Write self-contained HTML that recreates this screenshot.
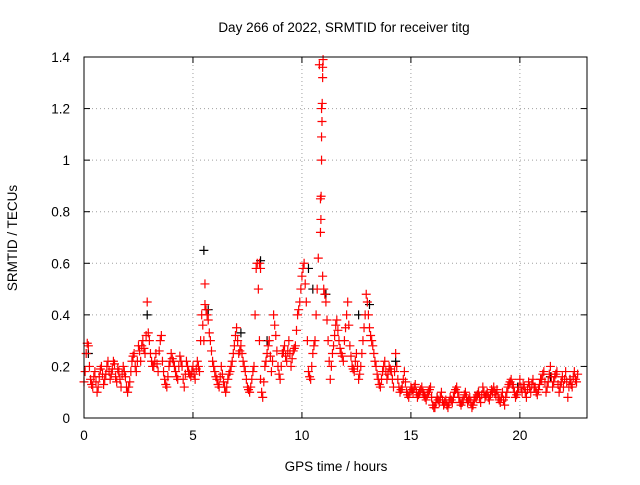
<!DOCTYPE html>
<html><head><meta charset="utf-8"><style>
body{margin:0;background:#fff}
svg text{font-family:"Liberation Sans",sans-serif;font-size:13.5px;fill:#000}
</style></head><body>
<svg id="chart" width="640" height="480" xmlns="http://www.w3.org/2000/svg">
<text x="344" y="32" text-anchor="middle">Day 266 of 2022, SRMTID for receiver titg</text>
<text transform="translate(17,238) rotate(-90)" text-anchor="middle">SRMTID / TECUs</text>
<text x="336" y="471" text-anchor="middle">GPS time / hours</text>
<g id="grid"></g>
<g id="ticks"></g>
<g id="black"></g>
<g id="red"></g>
<rect x="84" y="57" width="503" height="361" fill="none" stroke="#000" stroke-width="1"/>
</svg>
<script>
const xTicks=[0,5,10,15,20];
const yTicks=[0,0.2,0.4,0.6,0.8,1,1.2,1.4];
const yTickLabels=["0","0.2","0.4","0.6","0.8","1","1.2","1.4"];
const seriesA=[0.14,0.25,0.28,0.15,0.12,0.18,0.10,0.16,0.20,0.13,
0.17,0.22,0.15,0.19,0.21,0.14,0.18,0.12,0.20,0.16,
0.10,0.14,0.22,0.25,0.18,0.28,0.22,0.30,0.25,0.45,
0.30,0.22,0.20,0.25,0.18,0.30,0.22,0.15,0.12,0.20,
0.25,0.22,0.18,0.15,0.24,0.20,0.12,0.22,0.18,0.16,
0.20,0.15,0.22,0.18,0.40,0.30,0.42,0.38,0.30,0.22,
0.18,0.15,0.12,0.20,0.14,0.10,0.15,0.18,0.22,0.28,
0.35,0.25,0.28,0.22,0.18,0.12,0.10,0.15,0.20,0.58,
0.50,0.15,0.08,0.20,0.25,0.30,0.18,0.40,0.32,0.20,
0.15,0.25,0.28,0.22,0.30,0.20,0.26,0.28,0.40,0.45,
0.55,0.60,0.45,0.18,0.15,0.25,0.30,0.50,1.37,1.20,
0.50,0.45,0.30,0.15,0.25,0.32,0.38,0.30,0.25,0.22,
0.35,0.45,0.28,0.20,0.18,0.25,0.15,0.20,0.30,0.40,
0.45,0.35,0.30,0.25,0.20,0.15,0.12,0.18,0.22,0.15,
0.20,0.18,0.12,0.25,0.15,0.10,0.12,0.18,0.10,0.08,
0.12,0.10,0.13,0.08,0.10,0.12,0.09,0.07,0.10,0.12,
0.05,0.04,0.08,0.06,0.10,0.05,0.07,0.04,0.08,0.06,
0.10,0.12,0.08,0.05,0.07,0.10,0.06,0.08,0.04,0.07,
0.08,0.10,0.06,0.12,0.08,0.10,0.07,0.11,0.12,0.09,
0.08,0.06,0.10,0.05,0.10,0.13,0.15,0.12,0.08,0.10,
0.15,0.10,0.12,0.08,0.14,0.10,0.15,0.12,0.09,0.13,
0.15,0.18,0.10,0.14,0.20,0.12,0.16,0.18,0.10,0.14,
0.12,0.18,0.08,0.15,0.12,0.18,0.14];
const seriesB=[0.18,0.29,0.20,0.13,0.16,0.14,0.12,0.19,0.17,0.15,
0.20,0.18,0.17,0.22,0.16,0.19,0.15,0.17,0.18,0.12,
0.12,0.18,0.24,0.20,0.22,0.26,0.28,0.27,0.32,0.33,
0.25,0.20,0.22,0.21,0.26,0.32,0.18,0.13,0.16,0.22,
0.23,0.20,0.16,0.20,0.22,0.15,0.17,0.20,0.17,0.18,
0.17,0.19,0.20,0.30,0.36,0.44,0.40,0.33,0.26,0.20,
0.16,0.13,0.16,0.17,0.12,0.12,0.17,0.20,0.25,0.32,
0.30,0.26,0.25,0.20,0.15,0.11,0.12,0.18,0.40,0.60,
0.30,0.10,0.14,0.22,0.28,0.24,0.22,0.36,0.26,0.17,
0.20,0.26,0.24,0.26,0.25,0.23,0.27,0.34,0.42,0.50,
0.58,0.52,0.30,0.16,0.20,0.28,0.40,0.62,0.85,0.55,
0.48,0.38,0.22,0.20,0.28,0.36,0.34,0.27,0.24,0.30,
0.40,0.36,0.24,0.19,0.22,0.20,0.17,0.25,0.35,0.48,
0.40,0.32,0.28,0.22,0.17,0.13,0.15,0.20,0.18,0.17,
0.19,0.15,0.18,0.20,0.12,0.11,0.15,0.14,0.09,0.10,
0.11,0.12,0.10,0.09,0.11,0.10,0.08,0.09,0.11,0.08,
0.04,0.06,0.07,0.08,0.07,0.06,0.05,0.06,0.07,0.08,
0.11,0.10,0.06,0.06,0.09,0.08,0.07,0.06,0.05,0.08,
0.09,0.08,0.09,0.10,0.09,0.08,0.09,0.10,0.10,0.11,
0.07,0.08,0.07,0.08,0.12,0.14,0.13,0.10,0.09,0.12,
0.12,0.13,0.10,0.11,0.12,0.13,0.12,0.10,0.11,0.15,
0.17,0.14,0.12,0.17,0.16,0.14,0.17,0.13,0.12,0.16,
0.15,0.14,0.12,0.13,0.16,0.15,0.17];
const spikeTimes=[10.85,10.87,10.88,10.9,10.9,10.92,10.93,10.95,10.95,10.97,5.55,8.05,8.1];
const spikeValues=[0.72,0.77,0.86,1.0,1.09,1.15,1.22,1.32,1.36,1.39,0.52,0.60,0.58];
const blackTimes=[0.2,2.9,5.5,5.7,7.2,8.1,8.4,10.3,10.5,11.1,12.6,13.1,14.3,16.2,18.1,19.9,21.4,22.3];
const blackValues=[0.25,0.40,0.65,0.42,0.33,0.61,0.30,0.58,0.50,0.48,0.40,0.44,0.22,0.08,0.10,0.12,0.16,0.15];

const X0=84,X1=587,Y0=418,Y1=57,XMAX=23.08,YMAX=1.4;
const sx=v=>X0+(X1-X0)*v/XMAX;
const sy=v=>Y0-(Y0-Y1)*v/YMAX;
const NS="http://www.w3.org/2000/svg";
function mk(tag,attrs,parent){const e=document.createElementNS(NS,tag);for(const k in attrs)e.setAttribute(k,attrs[k]);parent.appendChild(e);return e;}
const grid=document.getElementById('grid'),ticks=document.getElementById('ticks');
xTicks.forEach(t=>{
 const x=sx(t);
 if(t>0){const l=mk('line',{x1:x,x2:x,y1:Y1,y2:Y0,stroke:'#a0a0a0','stroke-dasharray':'1,3'},grid);
 
 }
 mk('line',{x1:x,x2:x,y1:Y0,y2:Y0-6,stroke:'#000'},ticks);
 mk('line',{x1:x,x2:x,y1:Y1,y2:Y1+6,stroke:'#000'},ticks);
 const tx=mk('text',{x:x,y:Y0+22,'text-anchor':'middle'},ticks);tx.textContent=String(t);
 
 
});
yTicks.forEach((t,i)=>{
 const y=sy(t);
 if(t>0&&t<YMAX){const l=mk('line',{x1:X0,x2:X1,y1:y,y2:y,stroke:'#a0a0a0','stroke-dasharray':'1,3'},grid);
 
 }
 mk('line',{x1:X0,x2:X0+6,y1:y,y2:y,stroke:'#000'},ticks);
 mk('line',{x1:X1,x2:X1-6,y1:y,y2:y,stroke:'#000'},ticks);
 const tx=mk('text',{x:X0-14,y:y+5,'text-anchor':'end'},ticks);tx.textContent=yTickLabels[i];
 
 
});
function cross(g,t,v,c){
 const x=sx(t),y=sy(v);
 const p=mk('path',{d:`M${x-4.5},${y}h9M${x},${y-4.5}v9`,stroke:c,'stroke-width':1.2,fill:'none'},g);
 
 
}
const blk=document.getElementById('black'),red=document.getElementById('red');
blackTimes.forEach((t,i)=>cross(blk,t,blackValues[i],'#000'));
seriesA.forEach((v,i)=>cross(red,i*0.1,v,'#ff0000'));
seriesB.forEach((v,i)=>cross(red,i*0.1+0.05,v,'#ff0000'));
spikeTimes.forEach((t,i)=>cross(red,t,spikeValues[i],'#ff0000'));
</script>
</body></html>
